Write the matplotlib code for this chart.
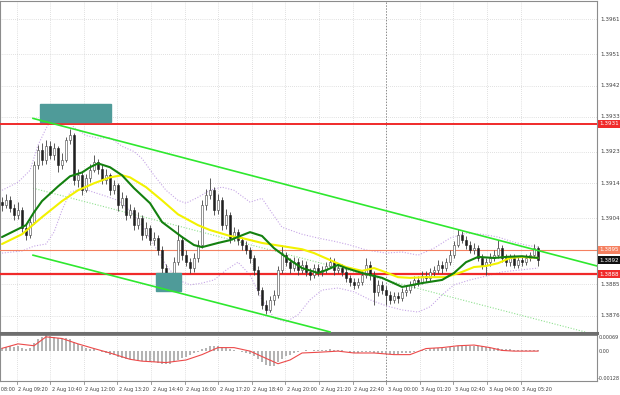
import matplotlib
matplotlib.use('Agg')
import matplotlib.pyplot as plt
from matplotlib.patches import Rectangle
from matplotlib.transforms import blended_transform_factory
import numpy as np

# prices are kept in pips above BASE
BASE = 1.3900
PIP = 0.0001

first_open = 8.5
close_pips = [
    7.7, 9.2, 6.8, 4.8, 6.3, 1.2, -0.9, 2.9, 19.2, 23.4,
    20.6, 24.8, 22.0, 24.0, 19.2, 20.6, 26.3, 27.7, 14.9, 16.3,
    12.0, 15.4, 17.7, 20.0, 18.2, 14.9, 16.3, 12.0, 13.4, 7.7,
    9.8, 4.8, 6.3, 2.0, 4.0, -0.9, 1.2, -2.3, -1.7, -5.1,
    -10.3, -13.2, -15.1, -8.5, -2.3, -6.6, -8.5, -10.3, -7.4, -3.7,
    7.7, 10.6, 12.0, 6.3, 9.2, 2.0, 4.8, -1.7, 0.0, -2.3,
    -3.7, -5.1, -7.4, -10.9, -16.6, -20.9, -22.3, -19.5, -18.0, -10.9,
    -6.6, -8.5, -10.3, -8.5, -10.9, -9.4, -11.5, -12.3, -10.3, -11.5,
    -10.9, -9.7, -8.5, -10.9, -10.3, -11.5, -13.2, -14.3, -15.1, -14.3,
    -12.3, -9.4, -12.3, -17.1, -15.1, -16.6, -18.0, -19.5, -18.3, -18.8,
    -17.1, -16.6, -15.1, -13.7, -14.3, -12.6, -13.2, -11.5, -10.9, -9.4,
    -10.3, -8.5, -6.6, -3.7, -0.9, -2.3, -3.7, -5.1, -4.6, -7.4,
    -9.4, -8.5, -7.4, -6.6, -4.6, -7.4, -8.5, -7.4, -9.4, -8.0,
    -8.5, -7.4, -6.6, -4.6, -8.0,
]
high_pips = [
    10.0, 11.0, 10.5, 8.0, 8.5, 7.2, 2.5, 4.4, 20.3, 25.0,
    25.5, 26.3, 26.0, 25.5, 24.8, 22.8, 27.4, 29.7, 28.4, 18.2,
    17.6, 16.8, 19.4, 22.0, 20.9, 19.4, 18.0, 17.0, 15.0, 14.2,
    11.4, 10.6, 8.2, 7.2, 5.8, 4.8, 3.0, 2.0, 0.0, -0.9,
    -4.0, -9.0, -12.2, -7.0, 2.0, -1.2, -5.2, -7.4, -6.0, -2.3,
    9.2, 12.4, 15.4, 12.9, 10.9, 10.0, 6.6, 5.7, 1.4, 1.0,
    -1.3, -2.4, -4.2, -6.5, -9.8, -15.6, -19.5, -18.4, -16.6, -9.8,
    -3.7, -5.6, -7.4, -7.0, -7.4, -8.0, -8.4, -10.3, -9.0, -9.2,
    -9.8, -8.5, -7.0, -7.4, -9.0, -9.2, -10.3, -12.2, -13.2, -13.2,
    -10.9, -7.4, -8.4, -11.2, -13.6, -14.0, -15.4, -17.0, -17.2, -17.2,
    -16.0, -15.4, -14.0, -12.6, -12.6, -11.2, -11.2, -10.3, -9.6, -8.0,
    -8.4, -7.4, -5.2, -2.6, 0.9, 0.2, -1.2, -2.6, -3.0, -3.6,
    -6.4, -7.4, -6.0, -5.2, -2.3, -3.6, -6.4, -6.4, -6.4, -7.0,
    -7.0, -6.4, -5.6, -3.4, -4.0,
]
low_pips = [
    6.2, 6.8, 5.8, 3.4, 3.8, 0.0, -2.3, -1.8, 2.4, 18.0,
    19.2, 19.6, 21.0, 20.6, 17.2, 18.2, 20.0, 25.3, 13.4, 13.0,
    10.6, 11.4, 14.4, 17.2, 16.8, 13.8, 13.8, 10.6, 11.0, 6.2,
    6.8, 3.4, 4.0, 0.6, 1.0, -2.3, -1.8, -3.7, -3.7, -6.6,
    -11.8, -14.6, -16.6, -16.0, -9.4, -8.0, -9.8, -11.8, -11.4, -8.6,
    -4.6, 6.4, 9.4, 4.9, 5.2, 0.6, 1.0, -3.1, -2.6, -3.6,
    -5.0, -6.4, -8.8, -12.2, -17.9, -22.0, -23.4, -23.0, -20.8, -18.8,
    -11.8, -9.8, -11.8, -11.2, -12.2, -11.8, -12.6, -13.6, -13.2, -12.6,
    -12.6, -11.8, -10.3, -12.2, -11.8, -12.6, -14.4, -15.4, -16.4, -16.0,
    -15.1, -13.2, -13.6, -20.9, -18.2, -17.8, -20.9, -20.6, -20.2, -20.2,
    -19.8, -18.2, -17.4, -16.0, -15.4, -15.0, -14.4, -14.0, -12.6, -11.8,
    -11.6, -11.2, -9.4, -7.4, -4.4, -3.0, -4.8, -6.0, -6.4, -8.4,
    -10.6, -12.3, -9.6, -8.4, -7.4, -8.6, -9.6, -9.6, -10.2, -10.2,
    -9.8, -9.4, -8.4, -7.4, -9.6,
]

# moving averages and envelope, read at a few bars (bar index, pips)
green_ma_bars = [0, 6, 8, 10, 14, 17, 20, 22, 24, 27, 30, 33, 37, 40, 45, 48, 50, 54, 57, 60,
                 62, 65, 68, 72, 75, 79, 81, 84, 86, 90, 95, 100, 105, 110, 113, 116, 119, 123, 126, 130, 134]
green_ma_pips = [-1.4, 2.0, 5.7, 8.9, 13.1, 16.0, 17.1, 18.6, 19.7, 18.6, 16.3, 12.6, 8.3, 2.9, -1.4,
                 -3.7, -4.3, -3.1, -2.3, -0.9, 0.0, -1.1, -4.6, -8.0, -10.3, -11.7, -10.9, -9.4, -10.3,
                 -11.7, -13.1, -15.7, -14.6, -13.7, -11.7, -8.6, -7.1, -7.4, -7.1, -6.9, -7.4]
yellow_ma_bars = [0, 5, 10, 15, 19, 23, 27, 30, 32, 36, 40, 44, 49, 52, 57, 60, 65, 70, 75, 78,
                  82, 86, 90, 93, 95, 99, 102, 106, 111, 115, 118, 121, 124, 127, 130, 134]
yellow_ma_pips = [-3.4, -0.6, 4.3, 8.9, 12.0, 14.0, 15.7, 16.3, 15.7, 12.9, 9.1, 5.1, 2.0, 0.6, -1.1,
                  -1.7, -3.1, -4.0, -4.9, -6.0, -8.0, -10.0, -11.1, -10.3, -11.1, -12.9, -13.1, -12.9,
                  -12.9, -11.4, -10.0, -9.7, -8.9, -7.4, -7.1, -7.4]
upper_band_bars = [0, 4, 7, 9, 11, 13, 16, 18, 21, 24, 27, 30, 33, 35, 38, 41, 44, 46, 49, 52, 55,
                   58, 62, 65, 67, 70, 75, 79, 83, 87, 91, 96, 100, 104, 108, 112, 116, 120, 124, 128, 131, 134]
upper_band_pips = [12.0, 14.3, 17.7, 24.9, 29.7, 33.7, 32.9, 30.0, 27.7, 26.9, 27.1, 24.6, 23.1, 21.1,
                   16.3, 12.0, 9.1, 8.3, 10.0, 12.0, 12.9, 12.0, 8.6, 9.7, 6.3, 1.4, -0.6, -1.7, -2.6,
                   -3.7, -5.1, -6.0, -5.7, -6.6, -4.6, -1.7, -0.3, -0.6, -1.4, -2.9, -3.7, -4.3]
lower_band_bars = [0, 5, 8, 11, 13, 15, 17, 20, 23, 26, 29, 32, 35, 38, 41, 44, 47, 50, 53, 56, 59,
                   62, 65, 68, 71, 74, 77, 80, 84, 88, 92, 96, 100, 104, 107, 110, 113, 117, 121, 125, 129, 134]
lower_band_pips = [-6.0, -5.4, -4.0, -3.4, 0.0, 6.3, 11.4, 12.6, 11.4, 10.3, 9.1, 6.3, 2.0, -3.7, -9.4,
                   -13.7, -15.1, -14.6, -13.7, -10.9, -8.6, -12.3, -19.4, -24.6, -25.7, -23.7, -19.4,
                   -16.6, -16.0, -17.1, -19.4, -21.1, -22.3, -22.9, -21.4, -18.0, -15.1, -13.7, -12.6,
                   -11.4, -10.9, -10.3]

# drawn objects: (bar, price) anchors
channel_top = [(7.75, 1.39326), (148.75, 1.38903)]
channel_bottom = [(7.75, 1.38934), (82.0, 1.38714)]
channel_mid = [(7.75, 1.39126), (145.75, 1.38714)]
level_high = 1.3931
level_low = 1.3888
level_mid = 1.3895
last_price = 1.3892
zone_top = (9.5, 27.25, 1.39317, 1.39366)
zone_bottom = (38.5, 44.75, 1.38831, 1.38883)

price_ticks = [1.3961, 1.3951, 1.3942, 1.3933, 1.3923, 1.3914, 1.3904, 1.3885, 1.3876]

# MACD, in units of 1e-5
macd_hist = [
    15, 18, 20, 18, 20, 15, 10, 12, 35, 50, 60, 68, 66, 62, 55, 52, 55, 50, 38, 32,
    22, 15, 10, 8, 2, -5, -10, -15, -18, -25, -28, -32, -33, -36, -38, -42, -42, -45, -46, -50,
    -54, -57, -56, -48, -38, -30, -24, -18, -10, -3, 8, 15, 20, 22, 20, 18, 15, 10, 6, 2,
    -2, -6, -12, -20, -32, -45, -58, -65, -62, -48, -32, -22, -15, -8, -4, 2, 3, 2, 4, 3,
    5, 6, 7, 5, 6, 4, 0, -3, -6, -7, -5, -2, -4, -8, -9, -10, -11, -12, -12, -11,
    -10, -9, -7, -4, -1, 3, 6, 9, 12, 14, 13, 14, 16, 19, 23, 25, 24, 22, 21, 22,
    20, 16, 14, 12, 12, 10, 8, 7, 6, 5, 5, 4, 4, 5, 3,
]
signal_bars = [0, 4, 8, 11, 15, 19, 23, 27, 32, 35, 41, 46, 50, 54, 58, 62, 66, 69, 72, 75, 79, 84,
               88, 93, 98, 102, 106, 110, 114, 118, 122, 125, 128, 131, 134]
signal_vals = [12, 31, 23, 61, 54, 31, 11, -8, -35, -43, -49, -38, -15, 15, 15, 0, -31, -54, -38, -8,
               -5, 0, -8, -8, -15, -15, 11, 15, 23, 26, 15, 3, 0, 0, 0]
macd_top = 0.00069
macd_bottom = -0.00128

time_labels = ['2 Aug 08:00', '2 Aug 09:20', '2 Aug 10:40', '2 Aug 12:00', '2 Aug 13:20',
               '2 Aug 14:40', '2 Aug 16:00', '2 Aug 17:20', '2 Aug 18:40', '2 Aug 20:00',
               '2 Aug 21:20', '2 Aug 22:40', '3 Aug 00:00', '3 Aug 01:20', '3 Aug 02:40',
               '3 Aug 04:00', '3 Aug 05:20']
label_start = -4.75
label_step = 8.4
day_break = 12  # index of the new-day label

FS = 4.1
FS_TIME = 3.5
FS_MACD = 3.5
GRID = '#c4c4c4'


def px(pips):
    return BASE + np.asarray(pips, dtype=float) * PIP


fig = plt.figure(figsize=(6.2, 3.95), dpi=100)
ax = fig.add_axes([0.0, 0.157, 0.963, 0.841])
axm = fig.add_axes([0.0, 0.0354, 0.963, 0.1165])

n = len(close_pips)
xs = np.arange(n)
tick_x = [label_start + label_step * k for k in range(len(time_labels))]

for a in (ax, axm):
    a.set_xlim(-0.5, 148.75)
    a.set_xticks([])
    a.set_yticks([])
    for k, tx in enumerate(tick_x):
        if k == day_break:
            a.axvline(tx, color='#8a8a8a', lw=0.7, ls=(0, (1.5, 1.5)), zorder=1)
        else:
            a.axvline(tx, color=GRID, lw=0.5, ls=(0, (1, 2)), zorder=0)
    for s in a.spines.values():
        s.set_color('#8c8c8c')
        s.set_linewidth(0.8)

ax.spines['bottom'].set_linewidth(2.2)
ax.spines['bottom'].set_color('#6e6e6e')
axm.spines['top'].set_linewidth(1.2)
axm.spines['top'].set_color('#6e6e6e')

ax.set_ylim(1.38711, 1.39663)
for p in price_ticks:
    ax.axhline(p, color=GRID, lw=0.5, ls=(0, (1, 2)), zorder=0)

# envelope and dotted channel line
ax.plot(upper_band_bars, px(upper_band_pips), color='#c6a6e6', lw=0.8, ls=(0, (1, 1.5)), zorder=2)
ax.plot(lower_band_bars, px(lower_band_pips), color='#c6a6e6', lw=0.8, ls=(0, (1, 1.5)), zorder=2)
ax.plot(*zip(*channel_mid), color='#8fe08f', lw=0.8, ls=(0, (1, 1.5)), zorder=2)

# zones and levels
for x0, x1, y0, y1 in (zone_top, zone_bottom):
    ax.add_patch(Rectangle((x0, y0), x1 - x0, y1 - y0, color='#4f9b99', zorder=5))
ax.axhline(level_high, color='#f02a2a', lw=1.4, zorder=3)
ax.axhline(level_low, color='#f02a2a', lw=1.6, zorder=3)
ax.axhline(level_mid, color='#f58060', lw=0.8, zorder=3)

# candles
c = px(close_pips)
o = np.concatenate([[px(first_open)], c[:-1]])
h = px(high_pips)
lo = px(low_pips)
ax.vlines(xs, lo, h, color='#404040', lw=0.6, zorder=4)
up = c >= o
ax.bar(xs[up], (c - o)[up], bottom=o[up], width=0.5, color='white', edgecolor='#404040', lw=0.4, zorder=4)
ax.bar(xs[~up], (o - c)[~up], bottom=c[~up], width=0.5, color='#202020', edgecolor='#202020', lw=0.4, zorder=4)

# moving averages
ax.plot(yellow_ma_bars, px(yellow_ma_pips), color='#f2f200', lw=1.5, zorder=6, solid_capstyle='round')
ax.plot(green_ma_bars, px(green_ma_pips), color='#13800f', lw=1.5, zorder=7, solid_capstyle='round')

# channel
ax.plot(*zip(*channel_top), color='#2ee82e', lw=1.2, zorder=8)
ax.plot(*zip(*channel_bottom), color='#2ee82e', lw=1.2, zorder=8)

# right scale
tr = blended_transform_factory(ax.transAxes, ax.transData)
for p in price_ticks:
    ax.text(1.006, p, f'{p:.4f}', transform=tr, fontsize=FS, va='center', ha='left', color='#404040')
boxes = [(level_high, '#f02a2a', 'white'), (level_mid, '#f58060', 'white'),
         (last_price, '#101010', 'white'), (level_low, '#f02a2a', 'white')]
for p, fc, tc in boxes:
    ax.text(1.004, p, f'{p:.4f}', transform=tr, fontsize=FS, va='center', ha='left', color=tc,
            bbox=dict(boxstyle='square,pad=0.25', fc=fc, ec='none'), zorder=10)

# MACD
axm.set_ylim(macd_bottom, macd_top)
hist = np.array(macd_hist) * 1e-5
axm.bar(xs, hist, width=0.5, color='#b4b4b4', zorder=2)
axm.plot(signal_bars, np.array(signal_vals) * 1e-5, color='#ec4a4a', lw=0.8, zorder=3)
trm = blended_transform_factory(axm.transAxes, axm.transData)
axm.text(1.003, macd_top, f'{macd_top:.5f}', transform=trm, fontsize=FS_MACD, va='top', ha='left',
         color='#404040')
axm.text(1.003, 0.0, '0.00', transform=trm, fontsize=FS_MACD, va='center', ha='left', color='#404040')
axm.text(1.001, macd_bottom, f'{macd_bottom:.5f}', transform=trm, fontsize=FS_MACD, va='bottom',
         ha='left', color='#404040')

# time axis
tt = blended_transform_factory(axm.transData, axm.transAxes)
for tx, lab in zip(tick_x, time_labels):
    axm.text(tx + 0.4, -0.14, lab, transform=tt, fontsize=FS_TIME, va='top', ha='left', color='#404040',
             clip_on=False)
    axm.plot([tx, tx], [-0.06, 0.0], transform=tt, color='#8c8c8c', lw=0.6, clip_on=False)

fig.savefig('out.png', dpi=100)
